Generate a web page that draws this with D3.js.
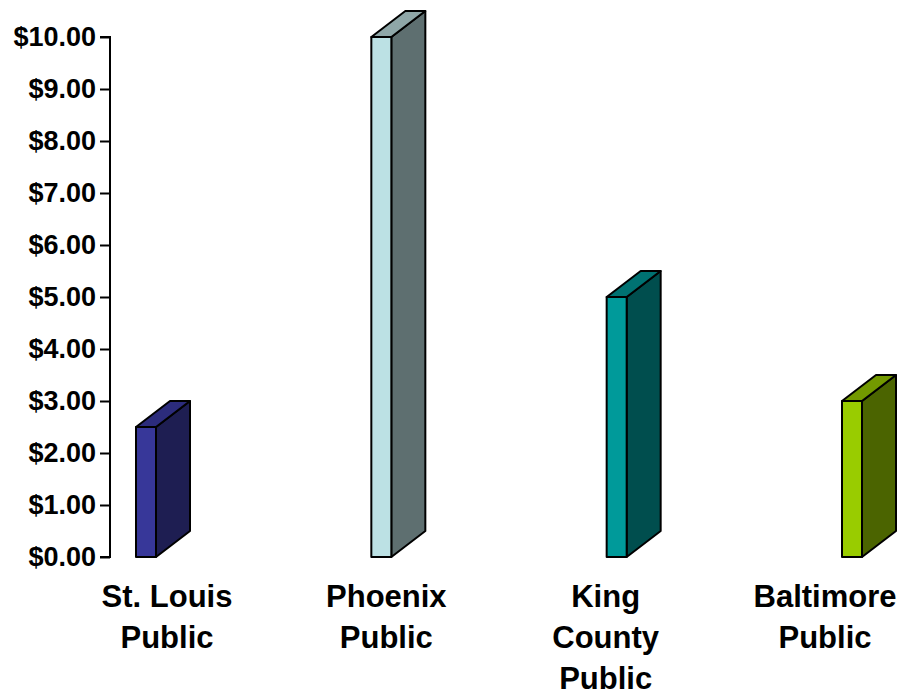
<!DOCTYPE html>
<html>
<head>
<meta charset="utf-8">
<script src="https://cdn.jsdelivr.net/npm/d3@7"></script>
<style>
  body { margin: 0; background: #fff; }
  text { font-family: "Liberation Sans", Arial, sans-serif; font-weight: bold; fill: #000; }
</style>
</head>
<body>
<svg id="chart" width="900" height="694"></svg>
<script>
// values
var categories = [["St. Louis", "Public"], ["Phoenix", "Public"], ["King", "County", "Public"], ["Baltimore", "Public"]];
var values = [2.5, 10, 5, 3];
var frontColors = ["#373799", "#bce1e4", "#009a9a", "#99cc00"];
var topColors = ["#2c2c7c", "#8fa7a8", "#007272", "#739900"];
var sideColors = ["#1e1e52", "#5e6f70", "#004e4e", "#4b6400"];
var tickValues = [0, 1, 2, 3, 4, 5, 6, 7, 8, 9, 10];

var svg = d3.select("#chart");
var idx = d3.range(values.length);

var y = d3.scaleLinear().domain([0, 10]).range([557, 37]);
// labels and bars do not share centres in the original, so two scales
var xLabel = d3.scalePoint().domain(idx).range([167, 825]);
var xBar = d3.scalePoint().domain(idx).range([136, 842]);
var barW = 20, dx = 34, dy = -26;

// y axis
var axis = d3.axisLeft(y)
  .tickValues(tickValues)
  .tickSize(10)
  .tickPadding(4)
  .tickFormat(function(d) { return "$" + d3.format(".2f")(d); });

var g = svg.append("g")
  .attr("transform", "translate(110,0)")
  .call(axis);
g.select(".domain").attr("stroke", "#000").attr("stroke-width", 2)
  .attr("d", "M-10," + y(10) + "H0V" + y(0) + "H-10");
g.selectAll(".tick line").attr("stroke", "#000").attr("stroke-width", 2);
g.selectAll(".tick text")
  .attr("font-size", 27)
  .attr("font-family", "Liberation Sans, Arial, sans-serif")
  .attr("font-weight", "bold")
  .attr("fill", "#000");

// 3d bars
var bars = svg.selectAll(".bar")
  .data(idx)
  .enter().append("g")
  .attr("class", "bar");

function face(d, kind) {
  var x0 = xBar(d), x1 = x0 + barW;
  var yt = y(values[d]), yb = y(0);
  if (kind == "front")
    return "M" + x0 + "," + yt + "H" + x1 + "V" + yb + "H" + x0 + "Z";
  if (kind == "top")
    return "M" + x0 + "," + yt + "L" + (x0 + dx) + "," + (yt + dy) + "H" + (x1 + dx) + "L" + x1 + "," + yt + "Z";
  return "M" + x1 + "," + yt + "L" + (x1 + dx) + "," + (yt + dy) + "V" + (yb + dy) + "L" + x1 + "," + yb + "Z";
}

bars.append("path")
  .attr("d", function(d) { return face(d, "side"); })
  .attr("fill", function(d) { return sideColors[d]; });
bars.append("path")
  .attr("d", function(d) { return face(d, "top"); })
  .attr("fill", function(d) { return topColors[d]; });
bars.append("path")
  .attr("d", function(d) { return face(d, "front"); })
  .attr("fill", function(d) { return frontColors[d]; });
bars.selectAll("path")
  .attr("stroke", "#000")
  .attr("stroke-width", 2)
  .attr("stroke-linejoin", "round");

// category labels
var labels = svg.selectAll(".cat")
  .data(idx)
  .enter().append("text")
  .attr("class", "cat")
  .attr("text-anchor", "middle")
  .attr("font-size", 31)
  .attr("y", 607);

labels.selectAll("tspan")
  .data(function(d) { return categories[d].map(function(t) { return {t: t, i: d}; }); })
  .enter().append("tspan")
  .attr("x", function(d) { return xLabel(d.i); })
  .attr("dy", function(d, j) { return j == 0 ? 0 : 41; })
  .text(function(d) { return d.t; });
</script>
</body>
</html>
